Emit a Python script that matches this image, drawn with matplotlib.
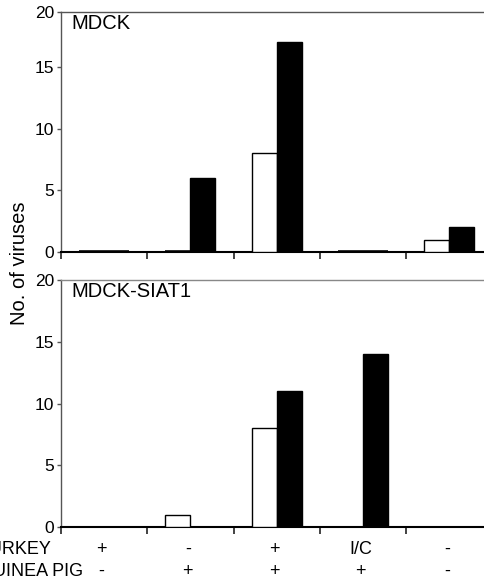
import matplotlib
matplotlib.use("Agg")
import matplotlib.pyplot as plt
import matplotlib.transforms as mtrans
import numpy as np

plt.rcParams['font.family'] = ['Liberation Sans', 'DejaVu Sans']

# ---- data ----
categories = ["c1", "c2", "c3", "c4", "c5"]
turkey_labels = ["+", "-", "+", "I/C", "-"]
guinea_labels = ["-", "+", "+", "+", "-"]
row_names = ["TURKEY", "GUINEA PIG"]
panel_names = ["MDCK", "MDCK-SIAT1"]

mdck_open = [0, 0, 8, 0, 1]
mdck_filled = [0, 6, 17, 0, 2]
siat_open = [None, 1, 8, None, None]
siat_filled = [None, None, 11, 14, None]

W, H = 485, 578
fig = plt.figure(figsize=(W / 100, H / 100), dpi=100)

left_px = 61
cat_px = 86.3
ax_w = 5 * cat_px

def axpos(top_px, bottom_px):
    return [left_px / W, 1 - bottom_px / H, ax_w / W, (bottom_px - top_px) / H]

ax1 = fig.add_axes(axpos(12, 252))
ax2 = fig.add_axes(axpos(280, 527))

bw = 0.29
x = np.arange(len(categories)) + 0.5

def draw(ax, openv, filledv, ymax, name):
    for xi, v in zip(x, openv):
        if v is not None:
            lw = 2.6 if v == 0 else 1.0
            ax.bar(xi - bw / 2, v, width=bw, color='white', edgecolor='black', linewidth=lw, zorder=3)
    for xi, v in zip(x, filledv):
        if v is not None:
            lw = 2.6 if v == 0 else 1.0
            ax.bar(xi + bw / 2, v, width=bw, color='black', edgecolor='black', linewidth=lw, zorder=3)
    ax.set_xlim(0, len(categories))
    ax.set_ylim(0, ymax)
    ax.set_xticks(np.arange(len(categories) + 1))
    ax.set_xticklabels([])
    ax.tick_params(axis='x', direction='out', length=5, width=1.2, color='#222222')
    ax.tick_params(axis='y', direction='out', length=3, width=1.0, color='#555555',
                   labelsize=12.5, pad=2)
    for s in ['left', 'top', 'right']:
        ax.spines[s].set_color('#555555')
        ax.spines[s].set_linewidth(1.0)
    ax.spines['bottom'].set_color('black')
    ax.spines['bottom'].set_linewidth(1.5)
    ax.text(0.023, 0.99, name, transform=ax.transAxes, fontsize=14.5, ha='left', va='top')

draw(ax1, mdck_open, mdck_filled, 19.45, panel_names[0])
ax1.set_yticks([0, 5, 10, 15, 19.45], labels=["0", "5", "10", "15", "20"])
draw(ax2, siat_open, siat_filled, 20, panel_names[1])
ax2.set_yticks([0, 5, 10, 15, 20], labels=["0", "5", "10", "15", "20"])
ax2.spines['top'].set_color('#888888')

fig.text(20 / W, 1 - 263 / H, "No. of viruses", rotation=90, fontsize=14.5,
         ha='center', va='center')

row_y = [549, 571]
tr = mtrans.blended_transform_factory(ax2.transData, fig.transFigure)
for ry, rname, labs in zip(row_y, row_names, [turkey_labels, guinea_labels]):
    fig.text(-21 / W, 1 - ry / H, rname, fontsize=13, ha='left', va='center')
    for xi, lab in zip(x, labs):
        ax2.text(xi - 0.03, 1 - ry / H, lab, transform=tr,
                 fontsize=13, ha='center', va='center')

fig.savefig("out.png", dpi=100)
